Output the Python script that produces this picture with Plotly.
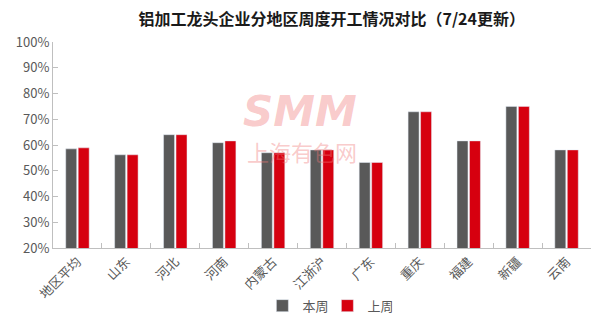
import plotly.graph_objects as go

categories = ["地区平均", "山东", "河北", "河南", "内蒙古", "江浙沪", "广东", "重庆", "福建", "新疆", "云南"]
this_week = [58.5, 56.2, 64.0, 60.9, 57.0, 58.1, 53.2, 72.9, 61.6, 75.0, 58.1]
last_week = [58.9, 56.2, 64.0, 61.6, 57.0, 58.1, 53.2, 72.9, 61.6, 75.0, 58.1]
y_ticks = [20, 30, 40, 50, 60, 70, 80, 90, 100]
y_tick_labels = [f"{v}%" for v in y_ticks]

FONT = "Noto Sans CJK SC, Microsoft YaHei, sans-serif"
WM = "rgba(240,120,120,0.40)"

fig = go.Figure()
fig.add_trace(go.Bar(x=categories, y=this_week, name="本周", marker_color="#595959"))
fig.add_trace(go.Bar(x=categories, y=last_week, name="上周", marker_color="#D6000F"))

# watermark
fig.add_annotation(text="<b><i>SMM</i></b>", x=0.459, y=0.665, xref="paper", yref="paper",
                   showarrow=False, font=dict(size=42, color=WM, family="Arial Black, DejaVu Sans, sans-serif"))
fig.add_annotation(text="上海有色网", x=0.462, y=0.47, xref="paper", yref="paper",
                   showarrow=False, font=dict(size=22, color=WM, family=FONT))

fig.update_layout(
    width=612, height=323,
    margin=dict(l=53, r=21, t=42, b=75, autoexpand=False),
    paper_bgcolor="white", plot_bgcolor="white",
    font=dict(family=FONT, color="#595959", size=12),
    title=dict(text="<b>铝加工龙头企业分地区周度开工情况对比（7/24更新）</b>",
               x=0.542, xanchor="center", y=0.94, yanchor="middle",
               font=dict(size=16, color="#1a1a1a", family=FONT)),
    barmode="group", bargap=0.49, bargroupgap=0.12,
    showlegend=True,
    legend=dict(orientation="h", x=0.51, xanchor="center", y=-0.28, yanchor="middle",
                font=dict(size=13, color="#595959"), itemwidth=30, traceorder="normal",
                entrywidth=20, entrywidthmode="pixels"),
    xaxis=dict(showline=True, linecolor="#BFBFBF", linewidth=1, tickangle=-45, automargin=False,
               ticks="inside", ticklen=5, tickcolor="#BFBFBF", tickson="boundaries",
               tickfont=dict(size=13, color="#595959"), showgrid=False),
    yaxis=dict(range=[20, 100], tickvals=y_ticks, ticktext=y_tick_labels, automargin=False,
               showline=True, linecolor="#BFBFBF", linewidth=1,
               ticks="inside", ticklen=5, tickcolor="#BFBFBF",
               tickfont=dict(size=13, color="#595959"), showgrid=False, zeroline=False),
)

fig.write_html("out.html")
